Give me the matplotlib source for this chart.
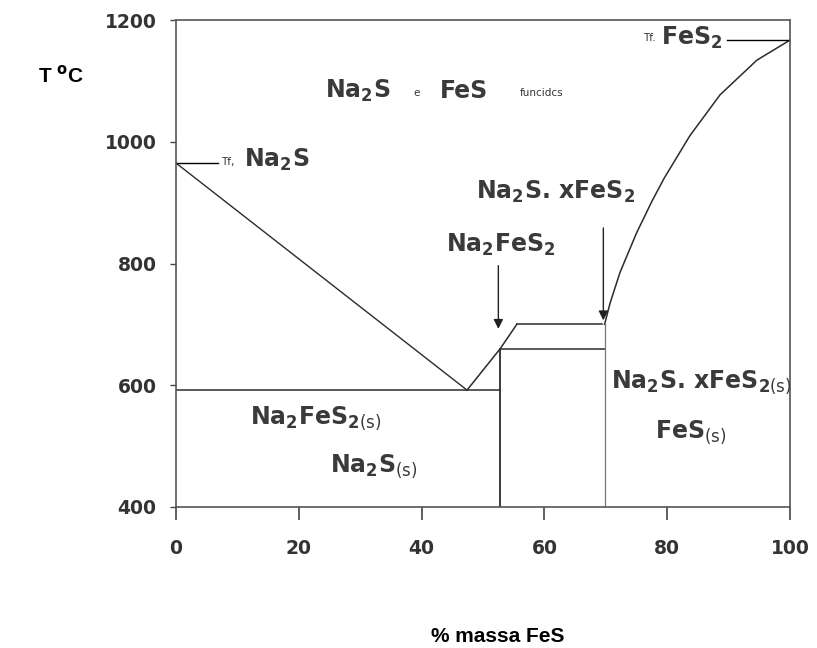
import matplotlib
matplotlib.use("Agg")
import matplotlib.pyplot as plt
import numpy as np

plt.rcParams['mathtext.fontset'] = 'dejavusans'

# ---- data ----
x_ticks = [0, 20, 40, 60, 80, 100]
y_ticks = [400, 600, 800, 1000, 1200]

tf_na2s = 965          # melting point marked for Na2S
tf_fes2 = 1167         # melting point marked for FeS2
eut_x, eut_T = 47.4, 592
comp_x = 52.8          # Na2FeS2 composition
comp2_x = 69.8         # Na2S.xFeS2 composition
peritectic_T = 660
upper_T = 700
kink_x = 55.5

# liquidus left branch
liq_left_x = [0, eut_x]
liq_left_T = [tf_na2s, eut_T]
# liquidus middle branch
liq_mid_x = [eut_x, comp_x, kink_x]
liq_mid_T = [eut_T, peritectic_T, upper_T]
# liquidus right branch (curve)
liq_right_x = [69.8, 70.7, 72.3, 75.0, 77.5, 79.5, 83.7, 88.6, 94.6, 100]
liq_right_T = [700, 735, 785, 850, 902, 940, 1010, 1077, 1134, 1167]

fig = plt.figure(figsize=(8.17, 6.48), dpi=100)
ax = fig.add_axes([176/817, 1-507/648, (790-176)/817, (507-20)/648])
ax.set_xlim(0, 100)
ax.set_ylim(400, 1200)

lc = '#2b2b2b'
ax.plot(liq_left_x, liq_left_T, color=lc, lw=1.0)
ax.plot(liq_mid_x, liq_mid_T, color=lc, lw=1.1)
ax.plot(liq_right_x, liq_right_T, color=lc, lw=1.1)
# eutectic horizontal
ax.plot([0, comp_x], [eut_T, eut_T], color=lc, lw=1.1)
# vertical at Na2FeS2
ax.plot([comp_x, comp_x], [400, peritectic_T], color=lc, lw=1.3)
# peritectic horizontal
ax.plot([comp_x, comp2_x], [peritectic_T, peritectic_T], color=lc, lw=1.1)
# upper horizontal
ax.plot([kink_x, 69.3], [upper_T, upper_T], color=lc, lw=1.1)
# vertical at Na2S.xFeS2
ax.plot([comp2_x, comp2_x], [400, upper_T], color='#777777', lw=0.9)
# Tf marker lines
ax.plot([0, 6.8], [tf_na2s, tf_na2s], color='black', lw=1.0)
ax.plot([89.7, 100], [tf_fes2, tf_fes2], color='black', lw=1.0)

# arrows
ax.annotate('', xy=(52.5, 688), xytext=(52.5, 801),
            arrowprops=dict(arrowstyle='-|>', color='#222222', lw=1.0, mutation_scale=14))
ax.annotate('', xy=(69.6, 702), xytext=(69.6, 863),
            arrowprops=dict(arrowstyle='-|>', color='#222222', lw=1.0, mutation_scale=14))

# axes styling
for s in ax.spines.values():
    s.set_color('#555555')
    s.set_linewidth(1.2)
ax.set_xticks(x_ticks)
ax.set_yticks(y_ticks)
ax.tick_params(axis='x', direction='out', length=9, width=1.2, color='#444444', pad=14)
ax.tick_params(axis='y', direction='out', length=4, width=1.0, color='#444444', pad=10)
for lab in ax.get_xticklabels() + ax.get_yticklabels():
    lab.set_fontweight('bold')
    lab.set_fontsize(13.5)
    lab.set_color('#333333')
    lab.set_family('DejaVu Sans')

tc = '#3a3a3a'
big = dict(fontsize=17, fontweight='bold', color=tc, family='DejaVu Sans')
small = dict(fontsize=7.5, color='#333333', family='DejaVu Sans')

# top texts
ax.text(24.3, 1083, r'Na$_\mathbf{2}$S', ha='left', va='center', **big)
ax.text(38.7, 1080, 'e', ha='left', va='center', **small)
ax.text(43.0, 1083, 'FeS', ha='left', va='center', **big)
ax.text(56.0, 1080, 'funcidcs', ha='left', va='center', **small)

ax.text(7.3, tf_na2s + 2, 'Tf,', ha='left', va='center', **small)
ax.text(11.0, tf_na2s + 5, r'Na$_\mathbf{2}$S', ha='left', va='center', **big)

ax.text(76.0, tf_fes2 + 3, 'Tf.', ha='left', va='center', **small)
ax.text(79.0, tf_fes2 + 4, r'FeS$_\mathbf{2}$', ha='left', va='center', **big)

ax.text(48.8, 918, r'Na$_\mathbf{2}$S. xFeS$_\mathbf{2}$', ha='left', va='center', **big)
ax.text(44.0, 830, r'Na$_\mathbf{2}$FeS$_\mathbf{2}$', ha='left', va='center', **big)

ax.text(12.0, 545, r'Na$_\mathbf{2}$FeS$_{\mathbf{2}\mathrm{(s)}}$', ha='left', va='center', **big)
ax.text(25.0, 467, r'Na$_\mathbf{2}$S$_{\mathrm{(s)}}$', ha='left', va='center', **big)

ax.text(70.8, 605, r'Na$_\mathbf{2}$S. xFeS$_{\mathbf{2}\mathrm{(s)}}$', ha='left', va='center', **big)
ax.text(78.0, 522, r'FeS$_{\mathrm{(s)}}$', ha='left', va='center', **big)

# axis labels (outside)
fig.text(38/817, 1-75/648, r'T $^\mathbf{o}$C', ha='left', va='center',
         fontsize=15, fontweight='bold', family='Liberation Sans', color='black')
fig.text(498/817, 1-637/648, '% massa FeS', ha='center', va='center',
         fontsize=15, fontweight='bold', family='Liberation Sans', color='black')

fig.savefig('out.png', dpi=100)
